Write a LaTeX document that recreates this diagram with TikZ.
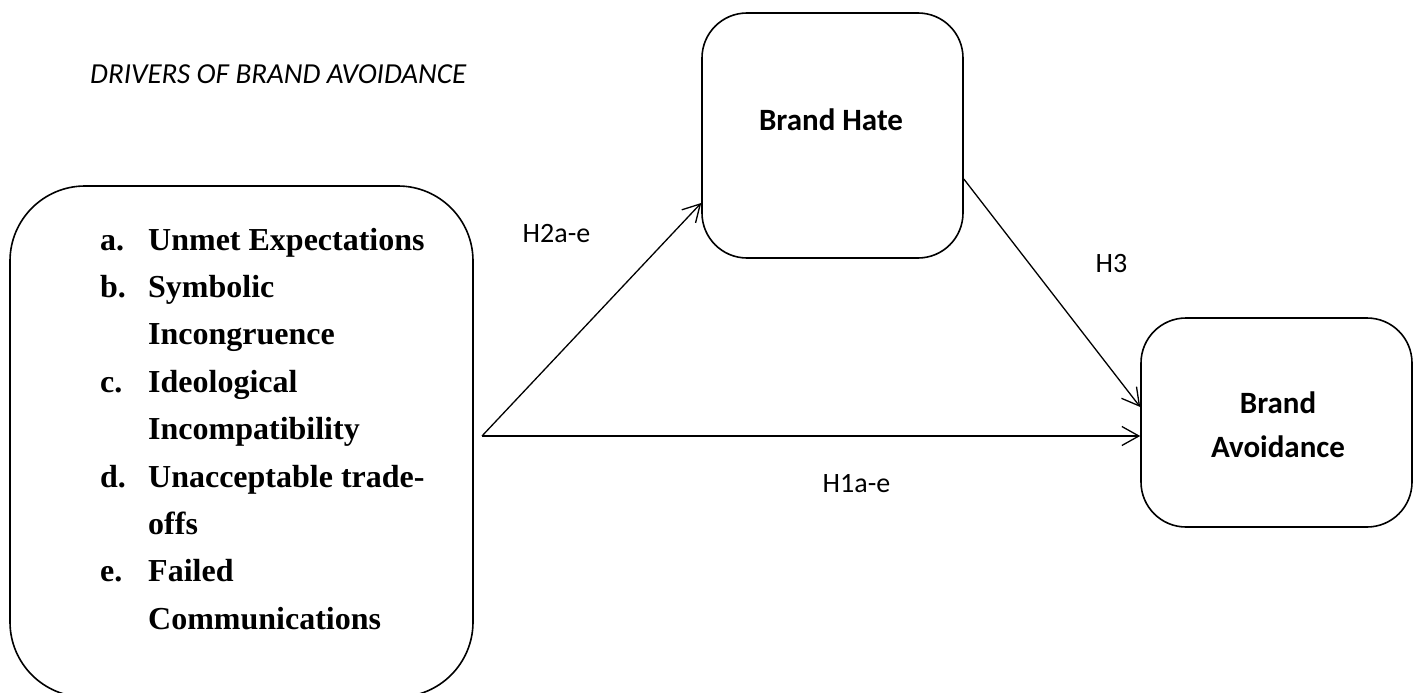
\documentclass[tikz,border=0pt]{standalone}
\usepackage{fontspec}
\setmainfont{Liberation Serif}
\newfontfamily\calibri{Carlito}
\usepackage{tikz}
\usetikzlibrary{arrows.meta,positioning}

\tikzset{
  factor/.style={draw, line width=1.6pt, rounded corners=45pt, inner sep=0pt},
  factortext/.style={font=\calibri\bfseries\fontsize{31}{44}\selectfont, inner sep=0pt},
  hyp/.style={-{Straight Barb[length=17pt,width=19pt]}, line width=1.3pt},
  hyplabel/.style={font=\calibri\fontsize{28}{34}\selectfont, inner sep=0pt, anchor=base},
}

\begin{document}
\begin{tikzpicture}[x=1pt,y=-1pt,line join=round]
\useasboundingbox (0,0) rectangle (1419,693);
\clip (0,0) rectangle (1419,693);
%%
\node (title) at (90,83) [anchor=base west, inner sep=0pt, font=\calibri\itshape\fontsize{29}{35}\selectfont] {DRIVERS OF BRAND AVOIDANCE};
%% boxes
\node (drivers) at (241.5,441.5) [factor, rounded corners=75pt, minimum width=463pt, minimum height=511pt] {};
\node (hate) at (832.5,135.5) [factor, minimum width=261pt, minimum height=245pt] {};
\node (avoid) at (1276.5,422.5) [factor, minimum width=271pt, minimum height=209pt] {};
%% box texts
\node (list) at (100,250) [anchor=base west, inner sep=0pt, font=\bfseries\fontsize{32}{47.4}\selectfont]
  {\begin{tabular}[t]{@{}p{48pt}@{}l@{}}
   a. & Unmet Expectations\\
   b. & Symbolic\\
      & Incongruence\\
   c. & Ideological\\
      & Incompatibility\\
   d. & Unacceptable trade-\\
      & offs\\
   e. & Failed\\
      & Communications
   \end{tabular}};
\node (hatetext) at (831,130) [factortext, anchor=base] {Brand Hate};
\node (avoidtext) at (1278,413) [factortext, anchor=base]
  {\begin{tabular}[t]{@{}c@{}}Brand\\Avoidance\end{tabular}};
%% hypotheses
\coordinate (src) at (482,436);
\draw [hyp] (src) -- ([yshift=-67.5pt]hate.west);
\draw [hyp] (src) -- (src -| avoid.west);
\draw [hyp] ([yshift=-43.5pt]hate.east) -- ([yshift=15.5pt]avoid.west);
\node (h2) at (556.5,242) [hyplabel] {H2a-e};
\node (h3) at (1111.5,272) [hyplabel] {H3};
\node (h1) at (856.5,492) [hyplabel] {H1a-e};
%
\end{tikzpicture}
\end{document}
